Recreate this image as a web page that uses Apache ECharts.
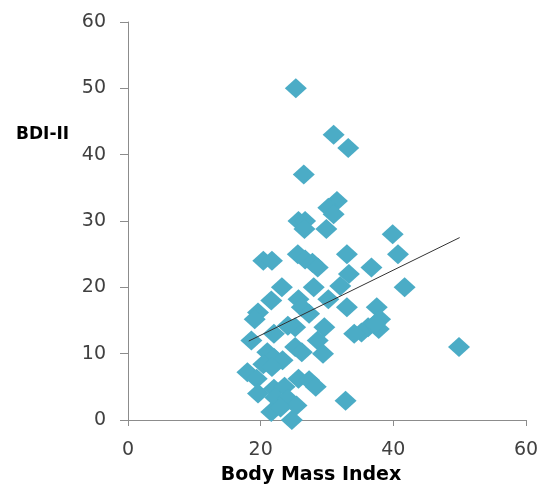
<!DOCTYPE html>
<html>
<head>
<meta charset="utf-8">
<script src="https://cdn.jsdelivr.net/npm/echarts@6/dist/echarts.min.js"></script>
<style>html,body{margin:0;padding:0;background:#fff;}#c{width:545px;height:484px;}</style>
</head>
<body>
<div id="c"></div>
<script>
var bmi = [25.3,31,33.2,26.5,31.5,30.2,31,25.7,26.7,26.6,29.9,39.9,20.4,21.7,25.6,26.7,27.8,28.6,33,40.7,36.7,33.3,32,28,23.2,41.7,21.6,25.7,26.2,30.2,33,37.5,19.6,19.1,27.3,38,25.2,29.6,36.2,35.2,34.1,37.8,37.3,22,24.1,18.6,28.6,49.9,25.2,26.2,29.4,21,22,23.3,20.4,21.7,18,19.4,25.7,27.3,28.3,19.6,22,23.6,22.2,24.1,25.4,32.8,21.6,23,24.7];
var bdi = [50,43,41,37,33,32,31,30,30,28.8,28.8,28,24,24,25,24.2,23.7,23,25,25,23,22,20.2,20,20,20,18,18.2,17,18.2,17,17,16.2,15.2,16,15.2,14,14,14,13.2,13,13.7,14.5,13,14.2,12,12,11,11,10.2,10,10.2,9.4,9,8.4,8,7.2,6.2,6.2,6,5,4,4.7,5,3.4,3.2,2.2,2.9,1.2,1.9,0];
var trendX = [18.2, 50];
var trendY = [11.9, 27.5];

var pts = bmi.map(function(v, i){ return [v, bdi[i]]; });
var trend = trendX.map(function(v, i){ return [v, trendY[i]]; });

var chart = echarts.init(document.getElementById('c'));
chart.setOption({
  animation: false,
  grid: {left: 128, top: 22, right: 19, bottom: 64},
  xAxis: {
    type: 'value', min: 0, max: 60, interval: 20,
    axisLine: {show: true, lineStyle: {color: '#8c8c8c', width: 1}},
    axisTick: {show: true, length: 6, lineStyle: {color: '#8c8c8c'}},
    splitLine: {show: false},
    axisLabel: {color: '#404040', fontSize: 19, fontFamily: 'DejaVu Sans', margin: 21}
  },
  yAxis: {
    type: 'value', min: 0, max: 60, interval: 10,
    axisLine: {show: true, lineStyle: {color: '#8c8c8c', width: 1}},
    axisTick: {show: true, length: 8, lineStyle: {color: '#8c8c8c'}},
    splitLine: {show: false},
    axisLabel: {color: '#404040', fontSize: 19, fontFamily: 'DejaVu Sans', margin: 22}
  },
  graphic: [
    {type: 'text', x: 16, y: 135, style: {text: 'BDI-II', font: 'bold 17px "DejaVu Sans"', fill: '#000', textAlign: 'left', textVerticalAlign: 'middle'}},
    {type: 'text', x: 311, y: 475, style: {text: 'Body Mass Index', font: 'bold 19px "DejaVu Sans"', fill: '#000', textAlign: 'center', textVerticalAlign: 'middle'}}
  ],
  series: [
    {
      type: 'scatter', data: pts, symbol: 'diamond', symbolSize: [22, 20],
      itemStyle: {color: '#4bacc6', opacity: 1}
    },
    {
      type: 'line', data: trend, symbol: 'none',
      lineStyle: {color: '#333', width: 1}, z: 5
    }
  ]
});
</script>
</body>
</html>
